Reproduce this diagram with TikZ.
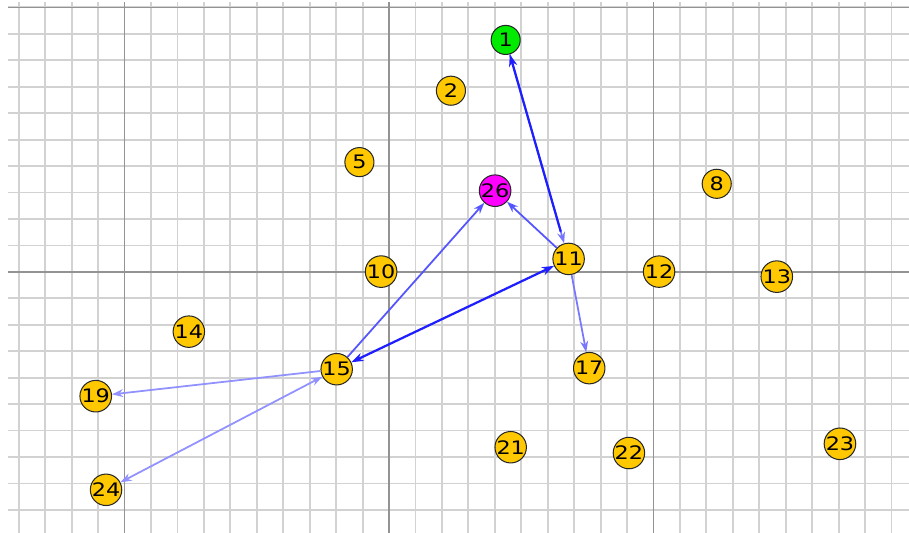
\documentclass[tikz,border=0pt]{standalone}
\usepackage{fontspec}
\usepackage{tikz}
\usetikzlibrary{arrows.meta}
\newfontfamily\nodefont{DejaVu Sans}
\definecolor{gold}{RGB}{255,200,0}
\definecolor{greenvert}{RGB}{0,235,0}
\definecolor{pinkvert}{RGB}{255,0,255}
\definecolor{edgedark}{RGB}{30,30,255}
\definecolor{edgemid}{RGB}{85,85,255}
\definecolor{edgelight}{RGB}{120,120,255}
\definecolor{edgepale}{RGB}{145,145,255}
\newcommand{\vlabel}[1]{\scalebox{1.2}[1]{#1}}

\begin{document}
\begin{tikzpicture}[
  vert/.style={circle,draw=black!85,line width=1.1pt,fill=gold,
    minimum size=1.1cm,inner sep=0pt,
    font=\nodefont\fontsize{20}{20}\selectfont},
  link/.style={line width=1.9pt,-{Stealth[length=12pt,width=8.5pt]}},
  biglink/.style={line width=2.4pt,-{Stealth[length=13pt,width=9pt]}}
]
  \useasboundingbox (-14.71,-9.87) rectangle (19.66,10.28);
  \clip (-14.71,-9.87) rectangle (19.66,10.28);
  % grid, minor lines every unit, major every ten
  \foreach \y in {-9,...,10}
    \draw[gray!35,line width=2pt] (-14.39,\y) -- (19.66,\y);
  \foreach \x in {-14,...,19}
    \draw[gray!35,line width=2pt] (\x,-9.87) -- (\x,10.22);
  \foreach \x in {-10,0,10}
    \draw[gray!85,line width=1.8pt] (\x,-9.87) -- (\x,10.22);
  \foreach \y in {0,10}
    \draw[gray!85,line width=1.8pt] (-14.39,\y) -- (19.66,\y);

  % vertices
  \node[vert,fill=greenvert] (n1) at (4.41,8.77) {\vlabel{1}};
  \node[vert] (n2) at (2.34,6.85) {\vlabel{2}};
  \node[vert] (n5) at (-1.12,4.15) {\vlabel{5}};
  \node[vert,fill=pinkvert] (n26) at (4.01,3.07) {\vlabel{26}};
  \node[vert] (n8) at (12.39,3.33) {\vlabel{8}};
  \node[vert] (n11) at (6.79,0.49) {\vlabel{11}};
  \node[vert] (n10) at (-0.30,0.01) {\vlabel{10}};
  \node[vert] (n12) at (10.21,0.01) {\vlabel{12}};
  \node[vert] (n13) at (14.66,-0.18) {\vlabel{13}};
  \node[vert] (n14) at (-7.57,-2.26) {\vlabel{14}};
  \node[vert] (n15) at (-1.98,-3.68) {\vlabel{15}};
  \node[vert] (n17) at (7.57,-3.64) {\vlabel{17}};
  \node[vert] (n19) at (-11.09,-4.70) {\vlabel{19}};
  \node[vert] (n21) at (4.60,-6.63) {\vlabel{21}};
  \node[vert] (n22) at (9.07,-6.85) {\vlabel{22}};
  \node[vert] (n23) at (17.05,-6.50) {\vlabel{23}};
  \node[vert] (n24) at (-10.70,-8.24) {\vlabel{24}};

  % links
  \draw[link,edgelight] (n1) -- (n11);
  \draw[biglink,edgedark,shorten <=13pt] (n11) -- (n1);
  \draw[link,edgemid] (n11) -- (n26);
  \draw[link,edgemid] (n15) -- (n26);
  \draw[biglink,edgedark,{Stealth[length=13pt,width=9pt]}-{Stealth[length=13pt,width=9pt]}] (n15) -- (n11);
  \draw[link,edgelight] (n11) -- (n17);
  \draw[link,edgepale] (n15) -- (n19);
  \draw[link,edgepale,{Stealth[length=12pt,width=8.5pt]}-{Stealth[length=12pt,width=8.5pt]}] (n15) -- (n24);
\end{tikzpicture}
\end{document}
